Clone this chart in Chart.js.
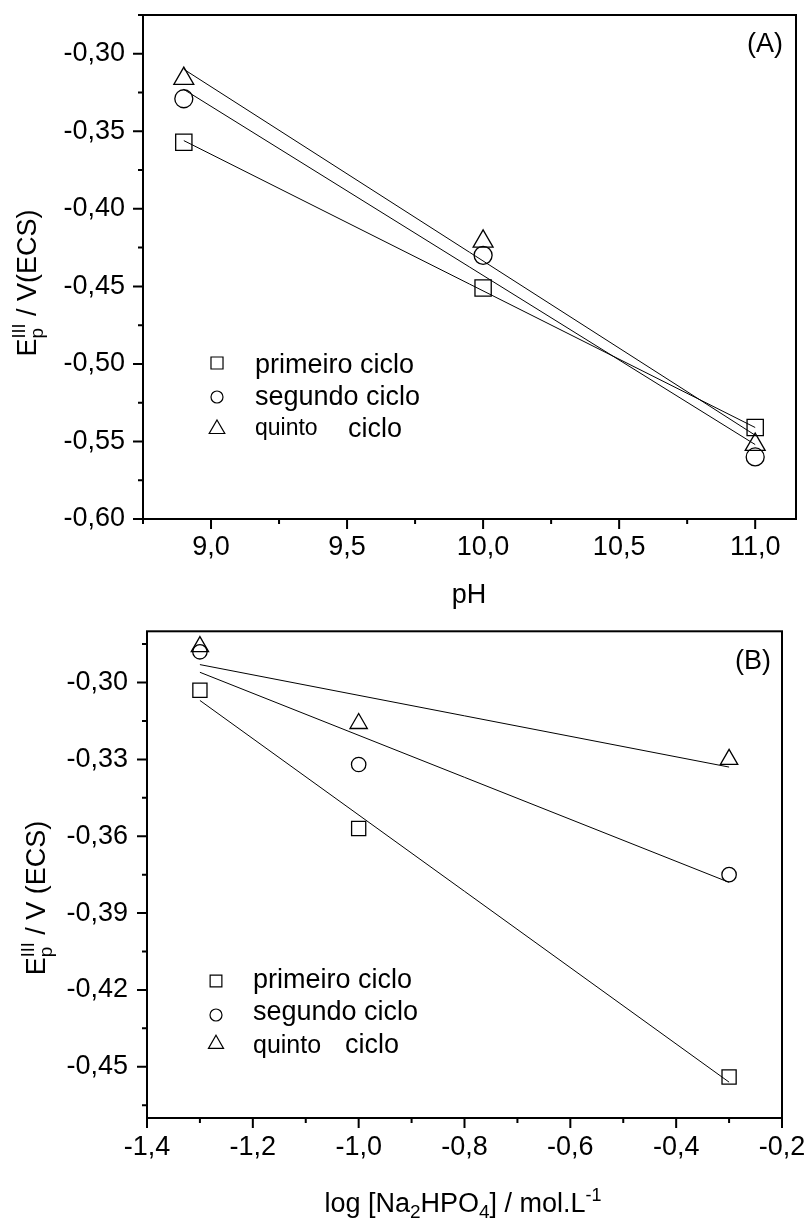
<!DOCTYPE html>
<html>
<head>
<meta charset="utf-8">
<title>Ep III vs pH / log [Na2HPO4]</title>
<script src="https://cdn.jsdelivr.net/npm/chart.js@4.4.0/dist/chart.umd.min.js"></script>
<style>
    body { margin: 0; background: #fff; }
    .panel { position: absolute; left: 0; width: 811px; }
    #panelA { top: 0; height: 620px; }
    #panelB { top: 620px; height: 598px; }
</style>
</head>
<body>
<div class="panel" id="panelA"><canvas id="chartA"></canvas></div>
<div class="panel" id="panelB"><canvas id="chartB"></canvas></div>
<script>
// ---- data: panel (A), Ep vs pH ----
const phValues = [8.9, 10.0, 11.0];
const phPrimeiro = [-0.357, -0.451, -0.541];
const phSegundo = [-0.329, -0.430, -0.560];
const phQuinto = [-0.316, -0.421, -0.552];
const phFitRange = [8.9, 11.0];
const phFitPrimeiro = [-0.356, -0.541];
const phFitSegundo = [-0.323, -0.552];
const phFitQuinto = [-0.310, -0.546];
const phTicks = [9.0, 9.5, 10.0, 10.5, 11.0];
const phMinorTicks = [8.75, 9.25, 9.75, 10.25, 10.75];
const epTicksA = [-0.60, -0.55, -0.50, -0.45, -0.40, -0.35, -0.30];
const epMinorTicksA = [-0.575, -0.525, -0.475, -0.425, -0.375, -0.325, -0.275];

// ---- data: panel (B), Ep vs log [Na2HPO4] ----
const logValues = [-1.3, -1.0, -0.3];
const logPrimeiro = [-0.303, -0.357, -0.454];
const logSegundo = [-0.288, -0.332, -0.375];
const logQuinto = [-0.286, -0.316, -0.330];
const logFitRange = [-1.3, -0.3];
const logFitPrimeiro = [-0.307, -0.456];
const logFitSegundo = [-0.296, -0.378];
const logFitQuinto = [-0.293, -0.333];
const logTicks = [-1.4, -1.2, -1.0, -0.8, -0.6, -0.4, -0.2];
const logMinorTicks = [-1.3, -1.1, -0.9, -0.7, -0.5, -0.3];
const epTicksB = [-0.45, -0.42, -0.39, -0.36, -0.33, -0.30];
const epMinorTicksB = [-0.465, -0.435, -0.405, -0.375, -0.345, -0.315, -0.285];

const seriesNames = ['primeiro ciclo', 'segundo ciclo', 'quinto ciclo'];
const seriesMarkers = ['rect', 'circle', 'triangle'];

const FONT = '"Liberation Sans", Arial, Helvetica, sans-serif';
const BASE = 27;

function toPoints(xs, ys) {
    return xs.map((x, i) => ({ x: x, y: ys[i] }));
}

function comma(v, digits) {
    return v.toFixed(digits).replace('.', ',');
}

// text made of pieces (sub/superscripts), centred on x
function drawRich(ctx, parts, x, y, rotate) {
    ctx.save();
    ctx.translate(x, y);
    if (rotate) ctx.rotate(-Math.PI / 2);
    ctx.fillStyle = '#000';
    ctx.textAlign = 'left';
    ctx.textBaseline = 'alphabetic';
    let total = 0;
    parts.forEach(p => {
        ctx.font = p.size + 'px ' + FONT;
        p.w = ctx.measureText(p.text).width;
        if (!p.stack) total += p.w;
    });
    let cx = -total / 2;
    parts.forEach(p => {
        ctx.font = p.size + 'px ' + FONT;
        ctx.fillText(p.text, cx, p.dy || 0);
        if (!p.stack) cx += p.w;
    });
    ctx.restore();
}

// frame, outward ticks, titles and legend
function makeDecor(cfg) {
    return {
        id: 'decor',
        afterDraw(chart) {
            const ctx = chart.ctx;
            const { left, right, top, bottom } = chart.chartArea;
            const xs = chart.scales.x;
            const ys = chart.scales.y;
            ctx.save();
            ctx.strokeStyle = '#000';
            ctx.lineWidth = 2;
            ctx.strokeRect(left, top, right - left, bottom - top);

            ctx.beginPath();
            cfg.xMajor.forEach(v => { const p = xs.getPixelForValue(v); ctx.moveTo(p, bottom); ctx.lineTo(p, bottom + 10); });
            cfg.xMinor.forEach(v => { const p = xs.getPixelForValue(v); ctx.moveTo(p, bottom); ctx.lineTo(p, bottom + 5); });
            cfg.yMajor.forEach(v => { const p = ys.getPixelForValue(v); ctx.moveTo(left, p); ctx.lineTo(left - 10, p); });
            cfg.yMinor.forEach(v => { const p = ys.getPixelForValue(v); ctx.moveTo(left, p); ctx.lineTo(left - 5, p); });
            ctx.stroke();

            drawRich(ctx, cfg.yTitle.parts, cfg.yTitle.x, cfg.yTitle.y, true);
            drawRich(ctx, cfg.xTitle.parts, cfg.xTitle.x, cfg.xTitle.y, false);

            ctx.fillStyle = '#000';
            ctx.font = BASE + 'px ' + FONT;
            ctx.textAlign = 'right';
            ctx.fillText(cfg.tag.text, cfg.tag.x, cfg.tag.y);

            // legend
            ctx.textAlign = 'left';
            cfg.legend.forEach((item, i) => {
                ctx.fillStyle = 'rgba(0,0,0,0)';
                ctx.strokeStyle = '#000';
                ctx.lineWidth = 1.2;
                Chart.helpers.drawPoint(ctx, { pointStyle: seriesMarkers[i], radius: item.r, rotation: 0, borderWidth: 1.2 }, item.mx, item.my);
                ctx.fillStyle = '#000';
                item.texts.forEach(t => {
                    ctx.font = t.size + 'px ' + FONT;
                    ctx.fillText(t.text, t.x, t.y);
                });
            });
            ctx.restore();
        }
    };
}

function buildChart(canvasId, cfg) {
    const datasets = [];
    cfg.fits.forEach(ys => {
        datasets.push({
            data: toPoints(cfg.fitRange, ys),
            showLine: true,
            pointRadius: 0,
            borderColor: '#000',
            borderWidth: 1
        });
    });
    cfg.series.forEach((ys, i) => {
        datasets.push({
            label: seriesNames[i],
            data: toPoints(cfg.xValues, ys),
            showLine: false,
            pointStyle: seriesMarkers[i],
            pointRadius: cfg.markerSizes[i],
            pointBorderWidth: 1.3,
            borderColor: '#000',
            backgroundColor: 'rgba(0,0,0,0)'
        });
    });

    const tickFont = { family: FONT, size: BASE };
    return new Chart(document.getElementById(canvasId), {
        type: 'scatter',
        data: { datasets: datasets },
        options: {
            responsive: true,
            maintainAspectRatio: false,
            animation: false,
            layout: { padding: cfg.padding },
            plugins: { legend: { display: false }, tooltip: { enabled: false } },
            scales: {
                x: {
                    type: 'linear',
                    min: cfg.xMin,
                    max: cfg.xMax,
                    grid: { display: false, drawTicks: false },
                    border: { display: false },
                    afterFit: s => { s.height = cfg.xAxisHeight; s.paddingLeft = 0; s.paddingRight = 0; },
                    afterBuildTicks: s => { s.ticks = cfg.decor.xMajor.map(v => ({ value: v })); },
                    ticks: { padding: cfg.xPad, color: '#000', font: tickFont, maxRotation: 0, autoSkip: false,
                             callback: v => comma(v, 1) }
                },
                y: {
                    type: 'linear',
                    min: cfg.yMin,
                    max: cfg.yMax,
                    grid: { display: false, drawTicks: false },
                    border: { display: false },
                    afterFit: s => { s.width = cfg.yAxisWidth; s.paddingTop = 0; s.paddingBottom = 0; },
                    afterBuildTicks: s => { s.ticks = cfg.decor.yMajor.map(v => ({ value: v })); },
                    ticks: { padding: cfg.yPad, color: '#000', font: tickFont, autoSkip: false,
                             callback: v => comma(v, 2) }
                }
            }
        },
        plugins: [makeDecor(cfg.decor)]
    });
}

const quintoWords = seriesNames[2].split(' ');

// Panel (A)
buildChart('chartA', {
    xValues: phValues,
    series: [phPrimeiro, phSegundo, phQuinto],
    fitRange: phFitRange,
    fits: [phFitPrimeiro, phFitSegundo, phFitQuinto],
    markerSizes: [11.5, 9, 11.5],
    xMin: 8.75, xMax: 11.15, yMin: -0.60, yMax: -0.275,
    padding: { top: 15, right: 15, left: 0, bottom: 0 },
    xAxisHeight: 101, yAxisWidth: 143, xPad: 12, yPad: 18,
    decor: {
        xMajor: phTicks, xMinor: phMinorTicks, yMajor: epTicksA, yMinor: epMinorTicksA,
        yTitle: { x: 36, y: 283, parts: [
            { text: 'E', size: BASE }, { text: 'p', size: 19, dy: 7, stack: true },
            { text: 'III', size: 18, dy: -11 }, { text: ' / V(ECS)', size: BASE }] },
        xTitle: { x: 469, y: 603, parts: [{ text: 'pH', size: BASE }] },
        tag: { text: '(A)', x: 783, y: 52 },
        legend: [
            { r: 8.5, mx: 217, my: 363, texts: [{ text: seriesNames[0], x: 255, y: 373, size: BASE }] },
            { r: 6, mx: 217, my: 397, texts: [{ text: seriesNames[1], x: 255, y: 405, size: BASE }] },
            { r: 9, mx: 217, my: 429, texts: [{ text: quintoWords[0], x: 255, y: 435, size: 23 },
                                              { text: quintoWords[1], x: 348, y: 437, size: BASE }] }
        ]
    }
});

// Panel (B)
buildChart('chartB', {
    xValues: logValues,
    series: [logPrimeiro, logSegundo, logQuinto],
    fitRange: logFitRange,
    fits: [logFitPrimeiro, logFitSegundo, logFitQuinto],
    markerSizes: [10, 7.2, 10],
    xMin: -1.4, xMax: -0.2, yMin: -0.47, yMax: -0.28,
    padding: { top: 8, right: 29, left: 0, bottom: 0 },
    xAxisHeight: 100, yAxisWidth: 147, xPad: 13, yPad: 19,
    decor: {
        xMajor: logTicks, xMinor: logMinorTicks, yMajor: epTicksB, yMinor: epMinorTicksB,
        yTitle: { x: 45, y: 278, parts: [
            { text: 'E', size: BASE }, { text: 'p', size: 19, dy: 7, stack: true },
            { text: 'III', size: 18, dy: -11 }, { text: ' / V (ECS)', size: BASE }] },
        xTitle: { x: 463, y: 592, parts: [
            { text: 'log [Na', size: BASE }, { text: '2', size: 19, dy: 6 },
            { text: 'HPO', size: BASE }, { text: '4', size: 19, dy: 6 },
            { text: '] / mol.L', size: BASE }, { text: '-1', size: 18, dy: -11 }] },
        tag: { text: '(B)', x: 771, y: 49 },
        legend: [
            { r: 8.3, mx: 216, my: 361, texts: [{ text: seriesNames[0], x: 253, y: 368, size: BASE }] },
            { r: 6, mx: 216, my: 395, texts: [{ text: seriesNames[1], x: 253, y: 400, size: BASE }] },
            { r: 8.7, mx: 216, my: 424, texts: [{ text: quintoWords[0], x: 253, y: 433, size: 25 },
                                                { text: quintoWords[1], x: 345, y: 433, size: BASE }] }
        ]
    }
});
</script>
</body>
</html>
